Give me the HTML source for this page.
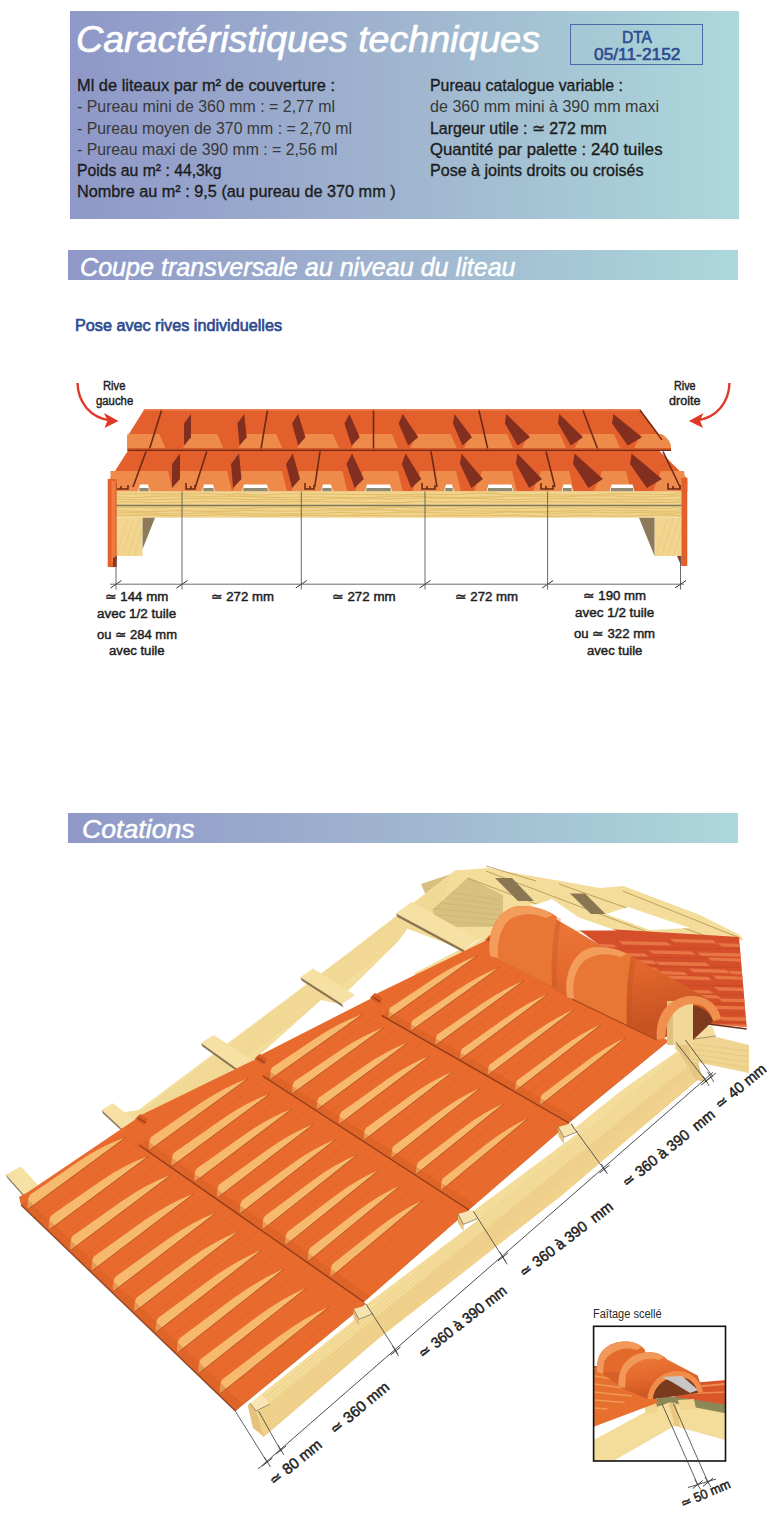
<!DOCTYPE html>
<html><head><meta charset="utf-8">
<style>
html,body{margin:0;padding:0;background:#fff;}
body{width:780px;height:1528px;position:relative;overflow:hidden;font-family:"Liberation Sans",sans-serif;}
.abs{position:absolute;white-space:nowrap;line-height:1;}
.grad{background:linear-gradient(to right,#8f98c8 0%,#a0b5cf 50%,#acd8db 100%);}
svg{position:absolute;left:0;}
</style></head>
<body>
<div class="abs grad" style="left:70px;top:11px;width:669px;height:208px;"></div>
<div class="abs" style="left:570px;top:23.5px;width:131px;height:39px;border:1.5px solid #4a6aa8;"></div>
<div class="abs grad" style="left:68px;top:250px;width:670px;height:30px;"></div>
<div class="abs grad" style="left:68px;top:812.5px;width:670px;height:30.5px;"></div>
<svg width="780" height="700" viewBox="0 0 780 700" style="top:0">
<path d="M77.5,383 C78,402 90,418 111,420.5" fill="none" stroke="#e2382a" stroke-width="2.4"/>
<path d="M118.5,421 L104,413 L107.5,420.5 L104.5,428 Z" fill="#e2382a"/>
<path d="M729.5,383 C729,402 717,418 696,420.5" fill="none" stroke="#e2382a" stroke-width="2.4"/>
<path d="M689,421 L703.5,413 L700,420.5 L703,428 Z" fill="#e2382a"/>
<path d="M144.4,409.3 L640,409.3 L662,438 Q672,440 671,450 L127.3,450 L127.3,436.4 Z" fill="#e35f2b"/>
<path d="M144.4,409.3 L640,409.3 L641,411 L143,411 Z" fill="#e97a48"/>
<path d="M127.3,434 L159.4,434 L165.4,448 L127.3,448 Z" fill="#ef8b4a"/>
<path d="M190.0,434 L217.2,434 L223.2,448 L183.0,448 Z" fill="#ef8b4a"/>
<path d="M245.7,434 L276.3,434 L282.3,448 L238.7,448 Z" fill="#ef8b4a"/>
<path d="M304.4,434 L333.1,434 L339.1,448 L297.4,448 Z" fill="#ef8b4a"/>
<path d="M358.7,434 L391.9,434 L397.9,448 L351.7,448 Z" fill="#ef8b4a"/>
<path d="M417.2,434 L450.7,434 L456.7,448 L410.2,448 Z" fill="#ef8b4a"/>
<path d="M471.0,434 L507.0,434 L513.0,448 L464.0,448 Z" fill="#ef8b4a"/>
<path d="M529.0,434 L560.0,434 L566.0,448 L522.0,448 Z" fill="#ef8b4a"/>
<path d="M582.0,434 L614.0,434 L620.0,448 L575.0,448 Z" fill="#ef8b4a"/>
<path d="M641.0,434 L662,434 Q671,440 671,448 L634.0,448 Z" fill="#ef8b4a"/>
<path d="M184.0,423.4 L191.0,414.0 L191.0,437.3 L184.0,445.5 Z" fill="#832f20"/>
<path d="M237.4,423.4 L244.2,414.0 L246.7,437.3 L239.5,445.5 Z" fill="#832f20"/>
<path d="M292.0,423.4 L298.1,414.0 L305.4,437.3 L298.2,445.5 Z" fill="#832f20"/>
<path d="M344.4,423.4 L349.5,414.0 L359.7,437.3 L351.6,445.5 Z" fill="#832f20"/>
<path d="M398.7,423.4 L402.7,414.0 L418.2,437.3 L408.1,445.5 Z" fill="#832f20"/>
<path d="M453.0,423.4 L454.6,414.0 L472.0,437.3 L462.4,445.5 Z" fill="#832f20"/>
<path d="M505.0,423.4 L506.2,414.0 L530.0,437.3 L517.6,445.5 Z" fill="#832f20"/>
<path d="M558.0,423.4 L559.2,414.0 L583.0,437.3 L570.9,445.5 Z" fill="#832f20"/>
<path d="M612.0,423.4 L613.5,414.0 L642.0,437.3 L627.8,445.5 Z" fill="#832f20"/>
<path d="M161.5,410.5 L149.2,450" stroke="#6e2a16" stroke-width="1.6"/>
<path d="M267.5,410.5 L260.8,450" stroke="#6e2a16" stroke-width="1.6"/>
<path d="M373.5,410.5 L373.5,450" stroke="#6e2a16" stroke-width="1.6"/>
<path d="M479,410.5 L488,450" stroke="#6e2a16" stroke-width="1.6"/>
<path d="M583,410.5 L598,450" stroke="#6e2a16" stroke-width="1.6"/>
<path d="M640,410 L662,440" stroke="#6e2a16" stroke-width="1.3"/>
<path d="M127.3,448.8 L671,448.8" stroke="#d45a28" stroke-width="1.2"/>
<path d="M128,450.6 L659,450.6 L687.3,478.6 L687.3,491.5 L110.3,491.5 L110.3,478.5 Z" fill="#e35f2b"/>
<path d="M127.3,450.4 L671,450.4" stroke="#6e2a16" stroke-width="1.4"/>
<path d="M110.5,471 L168.0,471 L173.0,491.5 L110.5,491.5 Z" fill="#ef8b4a"/>
<path d="M179.0,471 L227.0,471 L232.0,491.5 L171.0,491.5 Z" fill="#ef8b4a"/>
<path d="M240.5,471 L282.0,471 L287.0,491.5 L232.5,491.5 Z" fill="#ef8b4a"/>
<path d="M299.0,471 L342.4,471 L347.4,491.5 L291.0,491.5 Z" fill="#ef8b4a"/>
<path d="M362.8,471 L397.8,471 L402.8,491.5 L354.8,491.5 Z" fill="#ef8b4a"/>
<path d="M420.3,471 L456.0,471 L461.0,491.5 L412.3,491.5 Z" fill="#ef8b4a"/>
<path d="M482.0,471 L512.0,471 L517.0,491.5 L474.0,491.5 Z" fill="#ef8b4a"/>
<path d="M541.0,471 L569.0,471 L574.0,491.5 L533.0,491.5 Z" fill="#ef8b4a"/>
<path d="M602.0,471 L626.0,471 L631.0,491.5 L594.0,491.5 Z" fill="#ef8b4a"/>
<path d="M661.0,471 L684.0,471 L687.0,491.5 L653.0,491.5 Z" fill="#ef8b4a"/>
<path d="M138,491.5 L140,484.5 L148,484.5 L150,491.5 Z" fill="#ffffff"/>
<path d="M139,491.5 L139.5,488 L148.5,488 L149,491.5 Z" fill="#8e8b72"/>
<path d="M202,491.5 L204,484.5 L213,484.5 L215,491.5 Z" fill="#ffffff"/>
<path d="M203,491.5 L203.5,488 L213.5,488 L214,491.5 Z" fill="#8e8b72"/>
<path d="M321,491.5 L323,484.5 L331,484.5 L333,491.5 Z" fill="#ffffff"/>
<path d="M322,491.5 L322.5,488 L331.5,488 L332,491.5 Z" fill="#8e8b72"/>
<path d="M444,491.5 L446,484.5 L452,484.5 L454,491.5 Z" fill="#ffffff"/>
<path d="M445,491.5 L445.5,488 L452.5,488 L453,491.5 Z" fill="#8e8b72"/>
<path d="M561.5,491.5 L563.5,484.5 L571,484.5 L573,491.5 Z" fill="#ffffff"/>
<path d="M562.5,491.5 L563.0,488 L571.5,488 L572,491.5 Z" fill="#8e8b72"/>
<path d="M242,491.5 L244,484.5 L267,484.5 L269,491.5 Z" fill="#ffffff"/>
<path d="M243,491.5 L243.5,488 L267.5,488 L268,491.5 Z" fill="#8e8b72"/>
<path d="M365,491.5 L367,484.5 L390,484.5 L392,491.5 Z" fill="#ffffff"/>
<path d="M366,491.5 L366.5,488 L390.5,488 L391,491.5 Z" fill="#8e8b72"/>
<path d="M486.5,491.5 L488.5,484.5 L511.5,484.5 L513.5,491.5 Z" fill="#ffffff"/>
<path d="M487.5,491.5 L488.0,488 L512.0,488 L512.5,491.5 Z" fill="#8e8b72"/>
<path d="M609.6,491.5 L611.6,484.5 L632.6,484.5 L634.6,491.5 Z" fill="#ffffff"/>
<path d="M610.6,491.5 L611.1,488 L633.1,488 L633.6,491.5 Z" fill="#8e8b72"/>
<path d="M116,483 L116,489 L128,489 L128,485 M121,486 L121,489" fill="none" stroke="#6e2a16" stroke-width="1.6"/>
<path d="M186,483 L186,489 L195,489 L195,485 M191,486 L191,489" fill="none" stroke="#6e2a16" stroke-width="1.6"/>
<path d="M305,483 L305,489 L314,489 L314,485 M310,486 L310,489" fill="none" stroke="#6e2a16" stroke-width="1.6"/>
<path d="M422,483 L422,489 L435,489 L435,485 M427,486 L427,489" fill="none" stroke="#6e2a16" stroke-width="1.6"/>
<path d="M541,483 L541,489 L553,489 L553,485 M546,486 L546,489" fill="none" stroke="#6e2a16" stroke-width="1.6"/>
<path d="M668,483 L668,489 L680,489 L680,485 M673,486 L673,489" fill="none" stroke="#6e2a16" stroke-width="1.6"/>
<path d="M172.0,463.9 L180.0,453.5 L180.0,479.0 L172.0,488.0 Z" fill="#832f20"/>
<path d="M231.0,463.9 L239.0,453.5 L241.5,479.0 L233.1,488.0 Z" fill="#832f20"/>
<path d="M286.0,463.9 L292.8,453.5 L300.0,479.0 L292.1,488.0 Z" fill="#832f20"/>
<path d="M346.4,463.9 L352.1,453.5 L363.8,479.0 L354.6,488.0 Z" fill="#832f20"/>
<path d="M401.8,463.9 L405.7,453.5 L421.3,479.0 L411.2,488.0 Z" fill="#832f20"/>
<path d="M460.0,463.9 L461.4,453.5 L483.0,479.0 L471.4,488.0 Z" fill="#832f20"/>
<path d="M516.0,463.9 L517.3,453.5 L542.0,479.0 L529.2,488.0 Z" fill="#832f20"/>
<path d="M573.0,463.9 L574.5,453.5 L603.0,479.0 L588.5,488.0 Z" fill="#832f20"/>
<path d="M630.0,463.9 L631.6,453.5 L662.0,479.0 L646.9,488.0 Z" fill="#832f20"/>
<path d="M146,451.5 L133,487" stroke="#6e2a16" stroke-width="1.6"/>
<path d="M206.7,451.5 L195.4,487" stroke="#6e2a16" stroke-width="1.6"/>
<path d="M320,451.5 L314.7,487" stroke="#6e2a16" stroke-width="1.6"/>
<path d="M431,451.5 L437,487" stroke="#6e2a16" stroke-width="1.6"/>
<path d="M546,451.5 L555,487" stroke="#6e2a16" stroke-width="1.6"/>
<path d="M663,451.5 L680,487" stroke="#6e2a16" stroke-width="1.6"/>
<rect x="115" y="491.3" width="566.5" height="26.4" fill="#f1d48e"/>
<path d="M115,494.0 Q134.8,494.2 154.5,493.8 Q181.6,494.6 208.7,493.3 Q223.9,495.5 239.2,493.6 Q258.9,496.2 278.6,494.0 Q310.3,493.9 342.0,494.2 Q360.0,494.6 378.1,494.6 Q403.5,495.1 429.0,494.3 Q445.3,495.1 461.5,494.1 Q482.6,491.9 503.6,494.6 Q528.1,495.0 552.5,494.6 Q581.8,495.9 611.1,493.8 Q642.1,493.8 673.1,494.7 Q677.1,492.2 681.0,493.4" stroke="#e0b860" stroke-width="1.1" fill="none" opacity="0.8"/>
<path d="M115,496.5 Q134.3,498.5 153.7,496.4 Q181.2,495.6 208.7,496.5 Q231.5,495.8 254.2,496.6 Q280.9,498.3 307.6,496.8 Q341.1,498.1 374.7,497.3 Q403.1,495.0 431.6,497.1 Q465.9,498.3 500.1,496.6 Q529.4,495.2 558.7,497.0 Q585.2,495.6 611.6,495.8 Q643.7,498.7 675.8,495.8 Q678.4,496.1 681.0,495.9" stroke="#e0b860" stroke-width="1.1" fill="none" opacity="0.8"/>
<path d="M115,499.0 Q135.9,500.2 156.8,499.6 Q172.6,499.5 188.5,498.3 Q217.9,498.3 247.3,499.6 Q281.9,499.0 316.5,499.8 Q337.7,497.1 358.9,499.2 Q374.5,497.7 390.1,498.9 Q417.3,497.5 444.5,498.3 Q476.9,498.2 509.3,499.7 Q542.2,498.5 575.1,498.9 Q600.5,499.6 625.9,499.2 Q652.1,499.5 678.3,499.7 Q679.6,498.7 681.0,499.4" stroke="#e0b860" stroke-width="1.1" fill="none" opacity="0.8"/>
<path d="M115,502.0 Q134.8,501.1 154.5,502.8 Q179.9,502.2 205.4,501.2 Q228.7,502.4 252.0,501.2 Q279.3,502.6 306.6,501.3 Q334.1,501.9 361.7,502.3 Q383.7,502.9 405.8,502.4 Q421.2,500.1 436.7,502.3 Q470.9,500.9 505.2,501.9 Q532.1,501.2 558.9,501.8 Q580.2,501.4 601.4,502.2 Q622.4,501.5 643.4,502.4 Q659.0,502.3 674.5,502.4 Q677.8,500.8 681.0,502.5" stroke="#e0b860" stroke-width="1.1" fill="none" opacity="0.8"/>
<path d="M115,508.0 Q134.8,506.6 154.5,507.9 Q183.5,506.2 212.5,507.7 Q234.1,509.5 255.8,507.9 Q287.9,506.5 320.0,507.7 Q348.0,509.7 376.1,507.9 Q395.6,506.3 415.1,508.0 Q433.9,509.3 452.7,508.5 Q471.4,507.0 490.0,508.5 Q517.9,509.3 545.7,507.8 Q563.3,507.1 580.9,508.5 Q601.3,507.3 621.7,507.9 Q645.1,507.6 668.5,508.7 Q674.8,505.8 681.0,508.7" stroke="#e0b860" stroke-width="1.1" fill="none" opacity="0.8"/>
<path d="M115,510.5 Q147.6,512.6 180.2,510.4 Q214.2,512.4 248.2,510.1 Q278.1,512.0 308.0,510.8 Q333.4,509.6 358.8,510.2 Q378.3,508.6 397.9,510.6 Q418.6,511.9 439.4,509.8 Q472.4,511.4 505.5,511.2 Q538.4,512.3 571.4,510.6 Q586.6,511.6 601.9,510.0 Q622.9,511.2 643.9,510.5 Q662.4,512.4 681.0,510.7" stroke="#e0b860" stroke-width="1.1" fill="none" opacity="0.8"/>
<path d="M115,513.0 Q136.8,511.9 158.7,513.6 Q183.2,514.2 207.7,512.8 Q226.7,513.2 245.6,513.5 Q264.1,514.3 282.5,513.7 Q313.6,514.4 344.7,512.2 Q372.3,514.6 399.9,512.3 Q420.3,512.0 440.7,513.0 Q464.2,512.9 487.6,513.4 Q502.7,511.0 517.7,512.4 Q535.2,511.1 552.7,513.8 Q584.8,511.2 616.9,513.0 Q638.2,512.2 659.5,512.8 Q670.3,513.4 681.0,512.8" stroke="#e0b860" stroke-width="1.1" fill="none" opacity="0.8"/>
<path d="M115,515.5 Q133.8,514.7 152.6,514.9 Q178.8,516.5 204.9,515.3 Q221.5,514.1 238.1,515.3 Q265.1,516.7 292.2,515.3 Q323.3,516.0 354.3,515.4 Q376.7,515.5 399.2,515.8 Q422.6,516.4 446.0,515.4 Q465.9,515.7 485.8,515.8 Q502.2,515.2 518.7,515.4 Q551.3,517.4 583.9,515.3 Q616.8,516.8 649.8,515.1 Q665.4,513.8 681.0,516.0" stroke="#e0b860" stroke-width="1.1" fill="none" opacity="0.8"/>
<path d="M115,505.5 L681.5,505.5" stroke="#7f735c" stroke-width="1.3"/>
<path d="M115,517.7 L142.6,517.7 L142.6,556 L115,556 Z" fill="#f2d690"/>
<path d="M116,556 L128,517.7" stroke="#e6c070" stroke-width="0.8" opacity="0.6"/>
<path d="M122,556 L134,517.7" stroke="#e6c070" stroke-width="0.8" opacity="0.6"/>
<path d="M128,556 L140,517.7" stroke="#e6c070" stroke-width="0.8" opacity="0.6"/>
<path d="M134,556 L146,517.7" stroke="#e6c070" stroke-width="0.8" opacity="0.6"/>
<path d="M142.6,517.7 L155,517.7 L142.6,549 Z" fill="#8c7a58"/>
<path d="M654.5,517.7 L681.4,517.7 L681.4,556 L654.5,556 Z" fill="#f2d690"/>
<path d="M655.5,556 L667.5,517.7" stroke="#e6c070" stroke-width="0.8" opacity="0.6"/>
<path d="M661.5,556 L673.5,517.7" stroke="#e6c070" stroke-width="0.8" opacity="0.6"/>
<path d="M667.5,556 L679.5,517.7" stroke="#e6c070" stroke-width="0.8" opacity="0.6"/>
<path d="M673.5,556 L685.5,517.7" stroke="#e6c070" stroke-width="0.8" opacity="0.6"/>
<path d="M639,517.7 L654.5,517.7 L654.5,556 Z" fill="#8c7a58"/>
<path d="M107.7,479 L116.7,479 L116.7,560 L113,567 L107.7,567 Z" fill="#e35f2b"/>
<path d="M111.5,481 L115.5,481 L115.5,558 L111.5,564 Z" fill="#ee7c40"/>
<path d="M113,558 L116.7,556 L116.7,567 L113,567 Z" fill="#8b3423"/>
<path d="M681.4,478 L687.3,478 L687.3,566 L681.4,566 Z" fill="#e35f2b"/>
<path d="M681.4,556 L681.4,566 L677,556 Z" fill="#8b3423"/>
<path d="M116,556 L116,589.5" stroke="#5a5a5a" stroke-width="0.9"/>
<path d="M110.5,588 L121.5,580.5" stroke="#333" stroke-width="1"/>
<path d="M182,491.5 L182,589.5" stroke="#5a5a5a" stroke-width="0.9"/>
<path d="M176.5,588 L187.5,580.5" stroke="#333" stroke-width="1"/>
<path d="M301.3,491.5 L301.3,589.5" stroke="#5a5a5a" stroke-width="0.9"/>
<path d="M295.8,588 L306.8,580.5" stroke="#333" stroke-width="1"/>
<path d="M425,491.5 L425,589.5" stroke="#5a5a5a" stroke-width="0.9"/>
<path d="M419.5,588 L430.5,580.5" stroke="#333" stroke-width="1"/>
<path d="M547.6,491.5 L547.6,589.5" stroke="#5a5a5a" stroke-width="0.9"/>
<path d="M542.1,588 L553.1,580.5" stroke="#333" stroke-width="1"/>
<path d="M680.5,556 L680.5,589.5" stroke="#5a5a5a" stroke-width="0.9"/>
<path d="M675.0,588 L686.0,580.5" stroke="#333" stroke-width="1"/>
<path d="M110,584.2 L684,584.2" stroke="#5a5a5a" stroke-width="0.9"/>
</svg>
<svg width="780" height="1528" viewBox="0 0 780 1528" style="top:0">
<path d="M400.0,930.0 L457.0,870.5 L487.7,868.0 L520.0,874.0 L559.5,880.8 L600.0,888.0 L623.6,886.0 L700.0,915.0 L739.0,934.6 L744.0,940.0 L585.0,930.0 L520.0,955.0 L490.0,965.0 L470.0,985.0 L420.0,990.0 Z" fill="#f4dc9a" />
<path d="M421.0,884.0 L457.0,872.0 L503.0,895.0 L503.0,927.0 L440.0,927.0 Z" fill="#d8c080" />
<path d="M425.0,888.0 L500.0,900.0" fill="none" stroke="#c4a862" stroke-width="0.7" opacity="0.6"/>
<path d="M425.0,894.5 L500.0,905.0" fill="none" stroke="#c4a862" stroke-width="0.7" opacity="0.6"/>
<path d="M425.0,901.0 L500.0,910.0" fill="none" stroke="#c4a862" stroke-width="0.7" opacity="0.6"/>
<path d="M425.0,907.5 L500.0,915.0" fill="none" stroke="#c4a862" stroke-width="0.7" opacity="0.6"/>
<path d="M425.0,914.0 L500.0,920.0" fill="none" stroke="#c4a862" stroke-width="0.7" opacity="0.6"/>
<path d="M425.0,920.5 L500.0,925.0" fill="none" stroke="#c4a862" stroke-width="0.7" opacity="0.6"/>
<path d="M457.0,874.0 L621.0,936.0" fill="none" stroke="#b89a58" stroke-width="1.0" opacity="0.9"/>
<path d="M486.0,871.0 L655.0,935.0" fill="none" stroke="#b89a58" stroke-width="1.0" opacity="0.9"/>
<path d="M559.0,884.0 L709.0,937.0" fill="none" stroke="#b89a58" stroke-width="1.0" opacity="0.9"/>
<path d="M622.7,891.0 L740.0,938.0" fill="none" stroke="#b89a58" stroke-width="1.0" opacity="0.9"/>
<path d="M486.0,866.0 L536.0,881.0" fill="none" stroke="#b89a58" stroke-width="1.0" opacity="0.9"/>
<path d="M495.0,878.0 L512.0,878.0 L534.0,901.0 L518.0,901.0 Z" fill="#8a7652" />
<path d="M570.0,893.6 L585.0,893.6 L605.6,914.0 L591.0,914.0 Z" fill="#8a7652" />
<path d="M535.0,905.0 L552.0,899.0 L578.0,917.0 L562.0,921.0 Z" fill="#ffffff" />
<path d="M606.0,914.0 L628.0,907.0 L690.0,928.0 L650.0,930.0 Z" fill="#ffffff" />
<path d="M118.0,1122.0 L126.0,1112.0 L138.5,1110.0 L343.6,956.4 L456.0,869.7 L470.0,876.0 L415.0,925.0 L339.2,999.4 L261.3,1055.4 L139.5,1118.7 Z" fill="#f4dc9a" />
<path d="M140.0,1114.0 L452.0,876.0" fill="none" stroke="#dcbb72" stroke-width="0.6" opacity="0.55"/>
<path d="M141.5,1115.8 L450.0,880.5" fill="none" stroke="#dcbb72" stroke-width="0.6" opacity="0.55"/>
<path d="M143.0,1117.6 L448.0,885.0" fill="none" stroke="#dcbb72" stroke-width="0.6" opacity="0.55"/>
<path d="M144.5,1119.4 L446.0,889.5" fill="none" stroke="#dcbb72" stroke-width="0.6" opacity="0.55"/>
<path d="M146.0,1121.2 L444.0,894.0" fill="none" stroke="#dcbb72" stroke-width="0.6" opacity="0.55"/>
<path d="M147.5,1123.0 L442.0,898.5" fill="none" stroke="#dcbb72" stroke-width="0.6" opacity="0.55"/>
<path d="M149.0,1124.8 L440.0,903.0" fill="none" stroke="#dcbb72" stroke-width="0.6" opacity="0.55"/>
<path d="M150.5,1126.6 L438.0,907.5" fill="none" stroke="#dcbb72" stroke-width="0.6" opacity="0.55"/>
<path d="M152.0,1128.4 L436.0,912.0" fill="none" stroke="#dcbb72" stroke-width="0.6" opacity="0.55"/>
<path d="M253.0,1061.0 L321.0,1000.0 L352.0,1006.4 L372.0,996.0 L267.7,1061.0 Z" fill="#ffffff" />
<path d="M355.0,1000.0 L407.4,928.7 L464.0,950.0 L484.0,937.0 L373.3,994.5 Z" fill="#ffffff" />
<path d="M5.8,1174.6 L20.8,1166.5 L38.0,1185.0 L24.0,1195.0 Z" fill="#f6e0a4" />
<path d="M5.8,1174.6 L24.0,1195.0 L25.5,1198.5 L7.3,1178.1 Z" fill="#8a7652" />
<path d="M101.6,1110.0 L112.8,1103.2 L135.0,1120.0 L122.0,1129.0 Z" fill="#f6e0a4" />
<path d="M101.6,1110.0 L122.0,1129.0 L123.5,1132.5 L103.1,1113.5 Z" fill="#8a7652" />
<path d="M201.0,1043.0 L213.8,1035.0 L255.0,1062.0 L240.0,1071.0 Z" fill="#f6e0a4" />
<path d="M201.0,1043.0 L240.0,1071.0 L241.5,1074.5 L202.5,1046.5 Z" fill="#8a7652" />
<path d="M300.3,977.2 L313.0,968.6 L355.0,995.0 L342.0,1004.0 Z" fill="#f6e0a4" />
<path d="M300.3,977.2 L342.0,1004.0 L343.5,1007.5 L301.8,980.7 Z" fill="#8a7652" />
<path d="M396.0,913.5 L411.5,902.0 L478.0,939.0 L464.0,950.0 Z" fill="#f6e0a4" />
<path d="M396.0,913.5 L464.0,950.0 L465.5,953.5 L397.5,917.0 Z" fill="#8a7652" />
<path d="M575.0,927.0 L739.0,937.0 L746.7,1027.0 L708.0,1024.0 L690.0,1000.0 L640.0,975.0 Z" fill="#d5502a" />
<clipPath id="rr"><path d="M575.0,927.0 L739.0,937.0 L746.7,1027.0 L708.0,1024.0 L690.0,1000.0 L640.0,975.0 Z"/></clipPath><g clip-path="url(#rr)">
<path d="M575.0,943.2 L613.6,944.4 L617.6,947.8 L579.0,946.6 Z" fill="#ea7a48" opacity="0.9"/>
<path d="M618.7,941.0 L667.1,942.2 L671.1,945.6 L622.7,944.4 Z" fill="#ea7a48" opacity="0.9"/>
<path d="M670.2,938.8 L712.8,940.0 L716.8,943.4 L674.2,942.2 Z" fill="#ea7a48" opacity="0.9"/>
<path d="M717.6,943.2 L756.9,944.4 L760.9,947.8 L721.6,946.6 Z" fill="#ea7a48" opacity="0.9"/>
<path d="M575.0,947.5 L750.0,949.0" fill="none" stroke="#a83c1c" stroke-width="0.6" opacity="0.5"/>
<path d="M575.0,950.2 L602.8,951.4 L606.8,954.8 L579.0,953.6 Z" fill="#ea7a48" opacity="0.9"/>
<path d="M603.7,952.4 L644.8,953.6 L648.8,957.0 L607.7,955.8 Z" fill="#ea7a48" opacity="0.9"/>
<path d="M648.6,950.2 L691.5,951.4 L695.5,954.8 L652.6,953.6 Z" fill="#ea7a48" opacity="0.9"/>
<path d="M697.3,952.4 L741.9,953.6 L745.9,957.0 L701.3,955.8 Z" fill="#ea7a48" opacity="0.9"/>
<path d="M745.8,952.4 L789.5,953.6 L793.5,957.0 L749.8,955.8 Z" fill="#ea7a48" opacity="0.9"/>
<path d="M575.0,956.7 L750.0,958.2" fill="none" stroke="#a83c1c" stroke-width="0.6" opacity="0.5"/>
<path d="M575.0,957.2 L601.1,958.4 L605.1,961.8 L579.0,960.6 Z" fill="#ea7a48" opacity="0.9"/>
<path d="M604.7,959.4 L653.0,960.6 L657.0,964.0 L608.7,962.8 Z" fill="#ea7a48" opacity="0.9"/>
<path d="M655.7,961.6 L705.9,962.8 L709.9,966.2 L659.7,965.0 Z" fill="#ea7a48" opacity="0.9"/>
<path d="M707.3,957.2 L741.2,958.4 L745.2,961.8 L711.3,960.6 Z" fill="#ea7a48" opacity="0.9"/>
<path d="M745.1,959.4 L783.8,960.6 L787.8,964.0 L749.1,962.8 Z" fill="#ea7a48" opacity="0.9"/>
<path d="M575.0,965.9 L750.0,967.4" fill="none" stroke="#a83c1c" stroke-width="0.6" opacity="0.5"/>
<path d="M575.0,966.4 L616.5,967.6 L620.5,971.0 L579.0,969.8 Z" fill="#ea7a48" opacity="0.9"/>
<path d="M620.8,966.4 L655.2,967.6 L659.2,971.0 L624.8,969.8 Z" fill="#ea7a48" opacity="0.9"/>
<path d="M658.3,970.8 L684.2,972.0 L688.2,975.4 L662.3,974.2 Z" fill="#ea7a48" opacity="0.9"/>
<path d="M688.8,968.6 L725.8,969.8 L729.8,973.2 L692.8,972.0 Z" fill="#ea7a48" opacity="0.9"/>
<path d="M728.1,970.8 L781.9,972.0 L785.9,975.4 L732.1,974.2 Z" fill="#ea7a48" opacity="0.9"/>
<path d="M575.0,975.1 L750.0,976.6" fill="none" stroke="#a83c1c" stroke-width="0.6" opacity="0.5"/>
<path d="M575.0,975.6 L606.3,976.8 L610.3,980.2 L579.0,979.0 Z" fill="#ea7a48" opacity="0.9"/>
<path d="M609.1,977.8 L663.5,979.0 L667.5,982.4 L613.1,981.2 Z" fill="#ea7a48" opacity="0.9"/>
<path d="M666.0,975.6 L708.0,976.8 L712.0,980.2 L670.0,979.0 Z" fill="#ea7a48" opacity="0.9"/>
<path d="M712.7,975.6 L745.8,976.8 L749.8,980.2 L716.7,979.0 Z" fill="#ea7a48" opacity="0.9"/>
<path d="M747.7,977.8 L773.1,979.0 L777.1,982.4 L751.7,981.2 Z" fill="#ea7a48" opacity="0.9"/>
<path d="M575.0,984.3 L750.0,985.8" fill="none" stroke="#a83c1c" stroke-width="0.6" opacity="0.5"/>
<path d="M575.0,984.8 L603.5,986.0 L607.5,989.4 L579.0,988.2 Z" fill="#ea7a48" opacity="0.9"/>
<path d="M607.8,987.0 L633.1,988.2 L637.1,991.6 L611.8,990.4 Z" fill="#ea7a48" opacity="0.9"/>
<path d="M637.9,989.2 L668.2,990.4 L672.2,993.8 L641.9,992.6 Z" fill="#ea7a48" opacity="0.9"/>
<path d="M669.4,989.2 L709.6,990.4 L713.6,993.8 L673.4,992.6 Z" fill="#ea7a48" opacity="0.9"/>
<path d="M714.2,987.0 L751.8,988.2 L755.8,991.6 L718.2,990.4 Z" fill="#ea7a48" opacity="0.9"/>
<path d="M575.0,993.5 L750.0,995.0" fill="none" stroke="#a83c1c" stroke-width="0.6" opacity="0.5"/>
<path d="M575.0,994.0 L612.6,995.2 L616.6,998.6 L579.0,997.4 Z" fill="#ea7a48" opacity="0.9"/>
<path d="M612.6,998.4 L663.6,999.6 L667.6,1003.0 L616.6,1001.8 Z" fill="#ea7a48" opacity="0.9"/>
<path d="M665.4,994.0 L716.9,995.2 L720.9,998.6 L669.4,997.4 Z" fill="#ea7a48" opacity="0.9"/>
<path d="M718.1,998.4 L772.9,999.6 L776.9,1003.0 L722.1,1001.8 Z" fill="#ea7a48" opacity="0.9"/>
<path d="M575.0,1002.7 L750.0,1004.2" fill="none" stroke="#a83c1c" stroke-width="0.6" opacity="0.5"/>
<path d="M575.0,1003.2 L603.0,1004.4 L607.0,1007.8 L579.0,1006.6 Z" fill="#ea7a48" opacity="0.9"/>
<path d="M604.3,1007.6 L637.0,1008.8 L641.0,1012.2 L608.3,1011.0 Z" fill="#ea7a48" opacity="0.9"/>
<path d="M639.0,1003.2 L672.9,1004.4 L676.9,1007.8 L643.0,1006.6 Z" fill="#ea7a48" opacity="0.9"/>
<path d="M673.3,1007.6 L704.6,1008.8 L708.6,1012.2 L677.3,1011.0 Z" fill="#ea7a48" opacity="0.9"/>
<path d="M706.1,1005.4 L749.1,1006.6 L753.1,1010.0 L710.1,1008.8 Z" fill="#ea7a48" opacity="0.9"/>
<path d="M575.0,1011.9 L750.0,1013.4" fill="none" stroke="#a83c1c" stroke-width="0.6" opacity="0.5"/>
<path d="M575.0,1016.8 L603.8,1018.0 L607.8,1021.4 L579.0,1020.2 Z" fill="#ea7a48" opacity="0.9"/>
<path d="M606.7,1014.6 L649.0,1015.8 L653.0,1019.2 L610.7,1018.0 Z" fill="#ea7a48" opacity="0.9"/>
<path d="M650.1,1012.4 L679.7,1013.6 L683.7,1017.0 L654.1,1015.8 Z" fill="#ea7a48" opacity="0.9"/>
<path d="M684.6,1012.4 L717.1,1013.6 L721.1,1017.0 L688.6,1015.8 Z" fill="#ea7a48" opacity="0.9"/>
<path d="M718.0,1016.8 L761.9,1018.0 L765.9,1021.4 L722.0,1020.2 Z" fill="#ea7a48" opacity="0.9"/>
<path d="M575.0,1021.1 L750.0,1022.6" fill="none" stroke="#a83c1c" stroke-width="0.6" opacity="0.5"/>
<path d="M575.0,1023.8 L628.5,1025.0 L632.5,1028.4 L579.0,1027.2 Z" fill="#ea7a48" opacity="0.9"/>
<path d="M632.1,1021.6 L669.8,1022.8 L673.8,1026.2 L636.1,1025.0 Z" fill="#ea7a48" opacity="0.9"/>
<path d="M670.4,1023.8 L710.8,1025.0 L714.8,1028.4 L674.4,1027.2 Z" fill="#ea7a48" opacity="0.9"/>
<path d="M712.2,1023.8 L758.4,1025.0 L762.4,1028.4 L716.2,1027.2 Z" fill="#ea7a48" opacity="0.9"/>
<path d="M575.0,1030.3 L750.0,1031.8" fill="none" stroke="#a83c1c" stroke-width="0.6" opacity="0.5"/>
</g>
<path d="M708.0,1024.0 L746.7,1029.0" fill="none" stroke="#6a2a14" stroke-width="1.5" />
<path d="M245.6,1398.5 L365.4,1298.2 L531.8,1162.8 L690.0,1035.0 L697.0,1040.0 L700.0,1078.0 L560.0,1196.7 L376.7,1340.0 L263.6,1437.0 L247.0,1402.0 Z" fill="#f4dc9a" />
<path d="M247.0,1402.0 L263.6,1437.0 L376.7,1340.0 L560.0,1196.7 L700.0,1078.0 L688.0,1066.0 L540.0,1185.0 L370.0,1322.0 L255.0,1415.0 Z" fill="#efd08a" opacity="0.8"/>
<path d="M256.0,1405.0 L690.0,1046.0" fill="none" stroke="#dcbb72" stroke-width="0.6" opacity="0.55"/>
<path d="M257.5,1408.2 L690.0,1049.2" fill="none" stroke="#dcbb72" stroke-width="0.6" opacity="0.55"/>
<path d="M259.0,1411.4 L690.0,1052.4" fill="none" stroke="#dcbb72" stroke-width="0.6" opacity="0.55"/>
<path d="M260.5,1414.6 L690.0,1055.6" fill="none" stroke="#dcbb72" stroke-width="0.6" opacity="0.55"/>
<path d="M262.0,1417.8 L690.0,1058.8" fill="none" stroke="#dcbb72" stroke-width="0.6" opacity="0.55"/>
<path d="M263.5,1421.0 L690.0,1062.0" fill="none" stroke="#dcbb72" stroke-width="0.6" opacity="0.55"/>
<path d="M265.0,1424.2 L690.0,1065.2" fill="none" stroke="#dcbb72" stroke-width="0.6" opacity="0.55"/>
<path d="M266.5,1427.4 L690.0,1068.4" fill="none" stroke="#dcbb72" stroke-width="0.6" opacity="0.55"/>
<path d="M268.0,1430.6 L690.0,1071.6" fill="none" stroke="#dcbb72" stroke-width="0.6" opacity="0.55"/>
<path d="M246.0,1398.0 L258.5,1390.0 L270.0,1404.0 L256.0,1411.0 Z" fill="#f7e6b4" />
<path d="M246.0,1398.0 L256.0,1411.0 L264.0,1437.0 L253.0,1428.0 Z" fill="#e6c27c" />
<path d="M246.0,1398.0 L256.0,1411.0 L270.0,1404.0" fill="none" stroke="#8a7652" stroke-width="0.8" />
<path d="M672.0,1040.0 L690.8,1040.0 L700.0,1070.0 L706.0,1082.0 L696.0,1080.0 Z" fill="#e6c683" />
<path d="M687.7,1039.0 L712.0,1036.0 L749.0,1045.0 L749.0,1073.0 L690.8,1061.0 Z" fill="#f0d592" />
<path d="M692.0,1044.0 L748.0,1051.0" fill="none" stroke="#dcbc72" stroke-width="0.8" opacity="0.7"/>
<path d="M692.0,1049.0 L748.0,1056.5" fill="none" stroke="#dcbc72" stroke-width="0.8" opacity="0.7"/>
<path d="M692.0,1054.0 L748.0,1062.0" fill="none" stroke="#dcbc72" stroke-width="0.8" opacity="0.7"/>
<path d="M692.0,1059.0 L748.0,1067.5" fill="none" stroke="#dcbc72" stroke-width="0.8" opacity="0.7"/>
<path d="M690.0,1028.0 L712.0,1026.0 L716.0,1036.0 L694.0,1039.0 Z" fill="#f3dc9e" />
<path d="M690.0,1028.0 L694.0,1039.0 L716.0,1036.0" fill="none" stroke="#8a7652" stroke-width="0.7" />
<path d="M668.6,1002.7 L692.6,1002.7 L692.6,1043.6 L668.6,1043.6 Z" fill="#f2d898" />
<path d="M21.0,1205.0 L19.0,1197.0 L28.0,1192.0 L136.0,1119.0 L366.0,1304.0 L235.4,1411.0 Z" fill="#e86a2c" />
<path d="M28.0,1209.3 C26.5,1205.4 28.0,1196.4 30.4,1194.5 L78.8,1161.2 Q102.9,1144.9 125.6,1137.5 L28.0,1209.3 Z" fill="#f6b96e"/>
<path d="M28.0,1209.3 L125.6,1137.5" fill="none" stroke="#a0401a" stroke-width="1.0" opacity="0.7"/>
<path d="M38.5,1217.9 L148.8,1134.8" fill="none" stroke="#c95420" stroke-width="0.8" opacity="0.3"/>
<path d="M49.3,1229.8 C47.8,1225.8 49.3,1216.9 51.8,1214.9 L100.8,1180.9 Q125.3,1164.1 148.3,1156.3 L49.3,1229.8 Z" fill="#f6b96e"/>
<path d="M49.3,1229.8 L148.3,1156.3" fill="none" stroke="#a0401a" stroke-width="1.0" opacity="0.7"/>
<path d="M59.9,1238.4 L171.7,1153.2" fill="none" stroke="#c95420" stroke-width="0.8" opacity="0.3"/>
<path d="M70.7,1250.3 C69.2,1246.3 70.7,1237.4 73.2,1235.4 L122.8,1200.5 Q147.6,1183.3 170.9,1175.0 L70.7,1250.3 Z" fill="#f6b96e"/>
<path d="M70.7,1250.3 L170.9,1175.0" fill="none" stroke="#a0401a" stroke-width="1.0" opacity="0.7"/>
<path d="M81.3,1258.8 L194.6,1171.7" fill="none" stroke="#c95420" stroke-width="0.8" opacity="0.3"/>
<path d="M92.1,1270.8 C90.6,1266.8 92.1,1257.9 94.6,1255.9 L144.9,1220.1 Q170.0,1202.5 193.6,1193.8 L92.1,1270.8 Z" fill="#f6b96e"/>
<path d="M92.1,1270.8 L193.6,1193.8" fill="none" stroke="#a0401a" stroke-width="1.0" opacity="0.7"/>
<path d="M102.7,1279.3 L217.4,1190.2" fill="none" stroke="#c95420" stroke-width="0.8" opacity="0.3"/>
<path d="M113.5,1291.3 C112.0,1287.3 113.5,1278.4 115.9,1276.4 L166.9,1239.7 Q192.3,1221.6 216.3,1212.5 L113.5,1291.3 Z" fill="#f6b96e"/>
<path d="M113.5,1291.3 L216.3,1212.5" fill="none" stroke="#a0401a" stroke-width="1.0" opacity="0.7"/>
<path d="M124.1,1299.8 L240.3,1208.7" fill="none" stroke="#c95420" stroke-width="0.8" opacity="0.3"/>
<path d="M134.8,1311.8 C133.3,1307.8 134.8,1298.9 137.3,1296.9 L188.9,1259.3 Q214.7,1240.8 239.0,1231.2 L134.8,1311.8 Z" fill="#f6b96e"/>
<path d="M134.8,1311.8 L239.0,1231.2" fill="none" stroke="#a0401a" stroke-width="1.0" opacity="0.7"/>
<path d="M145.5,1320.3 L263.2,1227.2" fill="none" stroke="#c95420" stroke-width="0.8" opacity="0.3"/>
<path d="M156.2,1332.3 C154.7,1328.3 156.2,1319.4 158.7,1317.4 L210.9,1278.9 Q237.0,1260.0 261.6,1250.0 L156.2,1332.3 Z" fill="#f6b96e"/>
<path d="M156.2,1332.3 L261.6,1250.0" fill="none" stroke="#a0401a" stroke-width="1.0" opacity="0.7"/>
<path d="M166.9,1340.7 L286.0,1245.7" fill="none" stroke="#c95420" stroke-width="0.8" opacity="0.3"/>
<path d="M177.6,1352.8 C176.1,1348.8 177.6,1339.9 180.0,1337.9 L233.0,1298.6 Q259.4,1279.2 284.3,1268.7 L177.6,1352.8 Z" fill="#f6b96e"/>
<path d="M177.6,1352.8 L284.3,1268.7" fill="none" stroke="#a0401a" stroke-width="1.0" opacity="0.7"/>
<path d="M188.2,1361.2 L308.9,1264.2" fill="none" stroke="#c95420" stroke-width="0.8" opacity="0.3"/>
<path d="M198.9,1373.3 C197.5,1369.3 198.9,1360.4 201.4,1358.4 L255.0,1318.2 Q281.7,1298.4 307.0,1287.5 L198.9,1373.3 Z" fill="#f6b96e"/>
<path d="M198.9,1373.3 L307.0,1287.5" fill="none" stroke="#a0401a" stroke-width="1.0" opacity="0.7"/>
<path d="M209.6,1381.7 L331.7,1282.7" fill="none" stroke="#c95420" stroke-width="0.8" opacity="0.3"/>
<path d="M220.3,1393.7 C218.8,1389.8 220.3,1380.9 222.8,1378.9 L277.0,1337.8 Q304.1,1317.5 329.7,1306.2 L220.3,1393.7 Z" fill="#f6b96e"/>
<path d="M220.3,1393.7 L329.7,1306.2" fill="none" stroke="#a0401a" stroke-width="1.0" opacity="0.7"/>
<path d="M231.0,1402.2 L354.6,1301.2" fill="none" stroke="#c95420" stroke-width="0.8" opacity="0.3"/>
<path d="M21.0,1205.0 L235.4,1411.0 L243.2,1404.6 L27.9,1199.8 Z" fill="#cf5a22" opacity="0.35"/>
<path d="M21.0,1205.0 L235.4,1411.0" fill="none" stroke="#7a3216" stroke-width="1.4" opacity="0.8"/>
<path d="M235.4,1411.0 L366.0,1304.0" fill="none" stroke="#b04a1c" stroke-width="0.8" opacity="0.6"/>
<path d="M139.0,1145.0 L137.0,1117.0 L256.0,1059.0 L470.5,1209.0 L364.0,1302.0 Z" fill="#e86a2c" />
<path d="M149.4,1150.2 C148.0,1146.6 149.4,1138.4 151.7,1136.5 L200.6,1103.1 Q224.9,1086.7 248.0,1078.5 L149.4,1150.2 Z" fill="#f6b96e"/>
<path d="M149.4,1150.2 L248.0,1078.5" fill="none" stroke="#a0401a" stroke-width="1.0" opacity="0.7"/>
<path d="M160.4,1156.6 L270.7,1074.3" fill="none" stroke="#c95420" stroke-width="0.8" opacity="0.3"/>
<path d="M172.1,1166.1 C170.7,1162.4 172.1,1154.2 174.4,1152.4 L222.8,1118.7 Q247.0,1102.1 269.8,1093.8 L172.1,1166.1 Z" fill="#f6b96e"/>
<path d="M172.1,1166.1 L269.8,1093.8" fill="none" stroke="#a0401a" stroke-width="1.0" opacity="0.7"/>
<path d="M183.2,1172.5 L292.4,1089.5" fill="none" stroke="#c95420" stroke-width="0.8" opacity="0.3"/>
<path d="M194.8,1181.9 C193.5,1178.3 194.8,1170.1 197.1,1168.2 L245.1,1134.3 Q269.0,1117.5 291.6,1109.1 L194.8,1181.9 Z" fill="#f6b96e"/>
<path d="M194.8,1181.9 L291.6,1109.1" fill="none" stroke="#a0401a" stroke-width="1.0" opacity="0.7"/>
<path d="M205.9,1188.3 L314.1,1104.7" fill="none" stroke="#c95420" stroke-width="0.8" opacity="0.3"/>
<path d="M217.5,1197.8 C216.2,1194.1 217.5,1185.9 219.8,1184.1 L267.4,1149.8 Q291.1,1132.9 313.4,1124.3 L217.5,1197.8 Z" fill="#f6b96e"/>
<path d="M217.5,1197.8 L313.4,1124.3" fill="none" stroke="#a0401a" stroke-width="1.0" opacity="0.7"/>
<path d="M228.6,1204.1 L335.8,1119.9" fill="none" stroke="#c95420" stroke-width="0.8" opacity="0.3"/>
<path d="M240.2,1213.6 C238.9,1210.0 240.2,1201.7 242.5,1199.9 L289.6,1165.4 Q313.1,1148.3 335.3,1139.6 L240.2,1213.6 Z" fill="#f6b96e"/>
<path d="M240.2,1213.6 L335.3,1139.6" fill="none" stroke="#a0401a" stroke-width="1.0" opacity="0.7"/>
<path d="M251.3,1220.0 L357.5,1135.0" fill="none" stroke="#c95420" stroke-width="0.8" opacity="0.3"/>
<path d="M263.0,1229.5 C261.6,1225.8 263.0,1217.6 265.2,1215.8 L311.9,1180.9 Q335.2,1163.8 357.1,1154.8 L263.0,1229.5 Z" fill="#f6b96e"/>
<path d="M263.0,1229.5 L357.1,1154.8" fill="none" stroke="#a0401a" stroke-width="1.0" opacity="0.7"/>
<path d="M274.0,1235.8 L379.2,1150.2" fill="none" stroke="#c95420" stroke-width="0.8" opacity="0.3"/>
<path d="M285.7,1245.3 C284.3,1241.7 285.7,1233.4 288.0,1231.6 L334.2,1196.5 Q357.2,1179.2 378.9,1170.1 L285.7,1245.3 Z" fill="#f6b96e"/>
<path d="M285.7,1245.3 L378.9,1170.1" fill="none" stroke="#a0401a" stroke-width="1.0" opacity="0.7"/>
<path d="M296.7,1251.7 L400.9,1165.4" fill="none" stroke="#c95420" stroke-width="0.8" opacity="0.3"/>
<path d="M308.4,1261.2 C307.0,1257.5 308.4,1249.3 310.7,1247.5 L356.4,1212.0 Q379.3,1194.6 400.7,1185.3 L308.4,1261.2 Z" fill="#f6b96e"/>
<path d="M308.4,1261.2 L400.7,1185.3" fill="none" stroke="#a0401a" stroke-width="1.0" opacity="0.7"/>
<path d="M319.4,1267.5 L422.6,1180.5" fill="none" stroke="#c95420" stroke-width="0.8" opacity="0.3"/>
<path d="M331.1,1277.0 C329.7,1273.4 331.1,1265.1 333.4,1263.3 L378.7,1227.6 Q401.3,1210.0 422.5,1200.6 L331.1,1277.0 Z" fill="#f6b96e"/>
<path d="M331.1,1277.0 L422.5,1200.6" fill="none" stroke="#a0401a" stroke-width="1.0" opacity="0.7"/>
<path d="M342.1,1283.4 L444.3,1195.7" fill="none" stroke="#c95420" stroke-width="0.8" opacity="0.3"/>
<path d="M139.0,1145.0 L364.0,1302.0 L370.4,1296.4 L146.0,1139.8 Z" fill="#cf5a22" opacity="0.35"/>
<path d="M139.0,1145.0 L364.0,1302.0" fill="none" stroke="#7a3216" stroke-width="1.4" opacity="0.8"/>
<path d="M364.0,1302.0 L470.5,1209.0" fill="none" stroke="#b04a1c" stroke-width="0.8" opacity="0.6"/>
<path d="M262.8,1076.0 L256.4,1057.0 L372.0,998.0 L570.8,1122.0 L469.0,1210.0 Z" fill="#e86a2c" />
<path d="M270.6,1079.3 C269.4,1076.0 270.6,1068.6 272.7,1067.0 L318.3,1036.6 Q341.1,1021.7 362.7,1014.2 L270.6,1079.3 Z" fill="#f6b96e"/>
<path d="M270.6,1079.3 L362.7,1014.2" fill="none" stroke="#a0401a" stroke-width="1.0" opacity="0.7"/>
<path d="M280.7,1084.7 L383.9,1009.8" fill="none" stroke="#c95420" stroke-width="0.8" opacity="0.3"/>
<path d="M292.6,1093.5 C291.3,1090.3 292.6,1082.9 294.6,1081.2 L340.0,1050.4 Q362.6,1035.3 384.0,1027.5 L292.6,1093.5 Z" fill="#f6b96e"/>
<path d="M292.6,1093.5 L384.0,1027.5" fill="none" stroke="#a0401a" stroke-width="1.0" opacity="0.7"/>
<path d="M302.7,1098.9 L405.1,1023.1" fill="none" stroke="#c95420" stroke-width="0.8" opacity="0.3"/>
<path d="M317.3,1109.6 C316.1,1106.3 317.3,1098.9 319.3,1097.3 L364.3,1066.0 Q386.8,1050.6 408.0,1042.6 L317.3,1109.6 Z" fill="#f6b96e"/>
<path d="M317.3,1109.6 L408.0,1042.6" fill="none" stroke="#a0401a" stroke-width="1.0" opacity="0.7"/>
<path d="M327.4,1115.0 L429.0,1038.0" fill="none" stroke="#c95420" stroke-width="0.8" opacity="0.3"/>
<path d="M339.5,1124.1 C338.3,1120.8 339.5,1113.4 341.6,1111.8 L386.2,1080.0 Q408.5,1064.4 429.6,1056.1 L339.5,1124.1 Z" fill="#f6b96e"/>
<path d="M339.5,1124.1 L429.6,1056.1" fill="none" stroke="#a0401a" stroke-width="1.0" opacity="0.7"/>
<path d="M349.7,1129.4 L450.5,1051.4" fill="none" stroke="#c95420" stroke-width="0.8" opacity="0.3"/>
<path d="M364.3,1140.1 C363.1,1136.9 364.3,1129.5 366.3,1127.8 L410.6,1095.6 Q432.7,1079.7 453.6,1071.2 L364.3,1140.1 Z" fill="#f6b96e"/>
<path d="M364.3,1140.1 L453.6,1071.2" fill="none" stroke="#a0401a" stroke-width="1.0" opacity="0.7"/>
<path d="M374.4,1145.5 L474.4,1066.3" fill="none" stroke="#c95420" stroke-width="0.8" opacity="0.3"/>
<path d="M391.9,1158.1 C390.7,1154.8 391.9,1147.4 393.9,1145.8 L437.8,1113.0 Q459.7,1096.8 480.4,1088.0 L391.9,1158.1 Z" fill="#f6b96e"/>
<path d="M391.9,1158.1 L480.4,1088.0" fill="none" stroke="#a0401a" stroke-width="1.0" opacity="0.7"/>
<path d="M402.0,1163.4 L501.1,1083.0" fill="none" stroke="#c95420" stroke-width="0.8" opacity="0.3"/>
<path d="M416.6,1174.1 C415.4,1170.9 416.6,1163.5 418.7,1161.8 L462.2,1128.5 Q483.9,1112.1 504.4,1103.1 L416.6,1174.1 Z" fill="#f6b96e"/>
<path d="M416.6,1174.1 L504.4,1103.1" fill="none" stroke="#a0401a" stroke-width="1.0" opacity="0.7"/>
<path d="M426.7,1179.5 L525.0,1097.9" fill="none" stroke="#c95420" stroke-width="0.8" opacity="0.3"/>
<path d="M441.4,1190.2 C440.1,1186.9 441.4,1179.5 443.4,1177.9 L486.5,1144.1 Q508.1,1127.4 528.3,1118.1 L441.4,1190.2 Z" fill="#f6b96e"/>
<path d="M441.4,1190.2 L528.3,1118.1" fill="none" stroke="#a0401a" stroke-width="1.0" opacity="0.7"/>
<path d="M451.5,1195.5 L548.8,1112.8" fill="none" stroke="#c95420" stroke-width="0.8" opacity="0.3"/>
<path d="M262.8,1076.0 L469.0,1210.0 L475.1,1204.7 L269.4,1071.3 Z" fill="#cf5a22" opacity="0.35"/>
<path d="M262.8,1076.0 L469.0,1210.0" fill="none" stroke="#7a3216" stroke-width="1.4" opacity="0.8"/>
<path d="M469.0,1210.0 L570.8,1122.0" fill="none" stroke="#b04a1c" stroke-width="0.8" opacity="0.6"/>
<path d="M381.4,1015.4 L371.8,996.0 L487.0,940.0 L669.0,1041.0 L569.0,1123.0 Z" fill="#e86a2c" />
<path d="M389.0,1018.2 C388.0,1015.3 389.0,1008.8 390.8,1007.3 L435.1,977.8 Q457.1,963.2 478.1,955.2 L389.0,1018.2 Z" fill="#f6b96e"/>
<path d="M389.0,1018.2 L478.1,955.2" fill="none" stroke="#a0401a" stroke-width="1.0" opacity="0.7"/>
<path d="M398.3,1022.4 L498.2,950.3" fill="none" stroke="#c95420" stroke-width="0.8" opacity="0.3"/>
<path d="M411.2,1030.8 C410.1,1028.0 411.2,1021.5 413.0,1020.0 L456.9,990.2 Q478.8,975.4 499.7,967.2 L411.2,1030.8 Z" fill="#f6b96e"/>
<path d="M411.2,1030.8 L499.7,967.2" fill="none" stroke="#a0401a" stroke-width="1.0" opacity="0.7"/>
<path d="M420.4,1035.1 L519.7,962.2" fill="none" stroke="#c95420" stroke-width="0.8" opacity="0.3"/>
<path d="M435.9,1045.0 C434.8,1042.1 435.9,1035.7 437.7,1034.2 L481.4,1004.0 Q503.1,989.1 523.8,980.7 L435.9,1045.0 Z" fill="#f6b96e"/>
<path d="M435.9,1045.0 L523.8,980.7" fill="none" stroke="#a0401a" stroke-width="1.0" opacity="0.7"/>
<path d="M445.2,1049.2 L543.8,975.6" fill="none" stroke="#c95420" stroke-width="0.8" opacity="0.3"/>
<path d="M460.7,1059.2 C459.6,1056.3 460.7,1049.9 462.5,1048.4 L505.8,1017.8 Q527.4,1002.7 548.0,994.1 L460.7,1059.2 Z" fill="#f6b96e"/>
<path d="M460.7,1059.2 L548.0,994.1" fill="none" stroke="#a0401a" stroke-width="1.0" opacity="0.7"/>
<path d="M469.9,1063.4 L567.8,988.9" fill="none" stroke="#c95420" stroke-width="0.8" opacity="0.3"/>
<path d="M488.2,1075.0 C487.2,1072.1 488.2,1065.7 490.1,1064.2 L533.0,1033.2 Q554.5,1017.9 574.8,1009.1 L488.2,1075.0 Z" fill="#f6b96e"/>
<path d="M488.2,1075.0 L574.8,1009.1" fill="none" stroke="#a0401a" stroke-width="1.0" opacity="0.7"/>
<path d="M497.5,1079.2 L594.6,1003.8" fill="none" stroke="#c95420" stroke-width="0.8" opacity="0.3"/>
<path d="M515.8,1090.8 C514.7,1088.0 515.8,1081.5 517.6,1080.0 L560.2,1048.6 Q581.5,1033.1 601.7,1024.1 L515.8,1090.8 Z" fill="#f6b96e"/>
<path d="M515.8,1090.8 L601.7,1024.1" fill="none" stroke="#a0401a" stroke-width="1.0" opacity="0.7"/>
<path d="M525.1,1095.0 L621.4,1018.7" fill="none" stroke="#c95420" stroke-width="0.8" opacity="0.3"/>
<path d="M540.6,1105.0 C539.5,1102.1 540.6,1095.7 542.4,1094.2 L584.7,1062.4 Q605.8,1046.8 625.8,1037.6 L540.6,1105.0 Z" fill="#f6b96e"/>
<path d="M540.6,1105.0 L625.8,1037.6" fill="none" stroke="#a0401a" stroke-width="1.0" opacity="0.7"/>
<path d="M549.8,1109.2 L645.4,1032.0" fill="none" stroke="#c95420" stroke-width="0.8" opacity="0.3"/>
<path d="M381.4,1015.4 L569.0,1123.0 L575.0,1118.1 L387.7,1010.9 Z" fill="#cf5a22" opacity="0.35"/>
<path d="M381.4,1015.4 L569.0,1123.0" fill="none" stroke="#7a3216" stroke-width="1.4" opacity="0.8"/>
<path d="M569.0,1123.0 L669.0,1041.0" fill="none" stroke="#b04a1c" stroke-width="0.8" opacity="0.6"/>
<path d="M135.0,1119.0 L140.0,1114.0 L148.0,1119.0 L144.0,1125.0 Z" fill="#d55a24" />
<path d="M138.0,1118.0 L146.0,1123.0" fill="none" stroke="#7a3216" stroke-width="1" />
<path d="M254.4,1059.0 L259.4,1054.0 L267.4,1059.0 L263.4,1065.0 Z" fill="#d55a24" />
<path d="M257.4,1058.0 L265.4,1063.0" fill="none" stroke="#7a3216" stroke-width="1" />
<path d="M369.8,998.0 L374.8,993.0 L382.8,998.0 L378.8,1004.0 Z" fill="#d55a24" />
<path d="M372.8,997.0 L380.8,1002.0" fill="none" stroke="#7a3216" stroke-width="1" />
<path d="M485.0,940.0 L490.0,935.0 L498.0,940.0 L494.0,946.0 Z" fill="#d55a24" />
<path d="M488.0,939.0 L496.0,944.0" fill="none" stroke="#7a3216" stroke-width="1" />
<path d="M364.0,1302.0 L470.5,1209.0 L478.5,1219.5 L367.0,1304.0 Z" fill="#ffffff" />
<path d="M469.0,1210.0 L570.8,1122.0 L578.8,1132.5 L472.0,1212.0 Z" fill="#ffffff" />
<path d="M569.0,1123.0 L669.0,1041.0 L677.0,1051.5 L572.0,1125.0 Z" fill="#ffffff" />
<path d="M237.0,1410.0 L366.0,1304.0 L369.0,1308.0 L244.0,1408.0 Z" fill="#ffffff" />
<path d="M353.5,1309.0 L367.6,1305.0 L373.2,1313.6 L359.0,1319.3 Z" fill="#f6e4ae" />
<path d="M353.5,1309.0 L359.0,1319.3 L359.0,1326.3 L353.5,1318.0 Z" fill="#e2c27e" />
<path d="M353.5,1309.0 L359.0,1319.3 L373.2,1313.6" fill="none" stroke="#8a7652" stroke-width="0.8" />
<path d="M458.0,1214.0 L472.1,1210.0 L477.7,1218.6 L463.5,1224.3 Z" fill="#f6e4ae" />
<path d="M458.0,1214.0 L463.5,1224.3 L463.5,1231.3 L458.0,1223.0 Z" fill="#e2c27e" />
<path d="M458.0,1214.0 L463.5,1224.3 L477.7,1218.6" fill="none" stroke="#8a7652" stroke-width="0.8" />
<path d="M558.3,1127.0 L572.4,1123.0 L578.0,1131.6 L563.8,1137.3 Z" fill="#f6e4ae" />
<path d="M558.3,1127.0 L563.8,1137.3 L563.8,1144.3 L558.3,1136.0 Z" fill="#e2c27e" />
<path d="M558.3,1127.0 L563.8,1137.3 L578.0,1131.6" fill="none" stroke="#8a7652" stroke-width="0.8" />
<path d="M530.0,904.0 L545.4,905.8 L616.2,930.4 L576.0,930.4 L553.0,918.0 Z" fill="#ffffff" />
<linearGradient id="rg" x1="0" y1="0" x2="0.35" y2="1"><stop offset="0" stop-color="#ee7e3e"/><stop offset="0.55" stop-color="#e46a2e"/><stop offset="1" stop-color="#c85422"/></linearGradient>
<path d="M490,956 C486,926 503,906 521,906 C537,906 549,911 554,918 L600,945 L631,956 L708,998.7 C714,1003 719,1010 721,1019 L657,1040 L567,997 L498,959 Z" fill="url(#rg)"/>
<path d="M490,956 C486,926 503,906 521,906 C537,906 550,911 557,917 C552,940 551,965 552,986 L498,959 Z" fill="#e87634"/>
<path d="M552,986 C551,965 552,940 557,917 L561,919 C557,940 556,965 557,989 Z" fill="#b8501e" opacity="0.3"/>
<path d="M490,956 C486,926 503,906 521,906 C535,906 546,910 553,915 L546,918 C534,912 516,913 507,922 C499,932 497,945 498,958 Z" fill="#f39c5c"/>
<path d="M567,997 C563,968 578,947 597,947 C612,947 624,951 631,956 C627,978 626,1005 627,1026 L567,997 Z" fill="#e87634"/>
<path d="M627,1026 C626,1005 627,978 631,956 L636,959 C632,980 631,1005 632,1029 Z" fill="#b8501e" opacity="0.3"/>
<path d="M567,997 C563,968 578,947 597,947 C610,947 620,950 627,954 L620,957 C608,952 591,954 582,963 C574,973 572,986 574,999 Z" fill="#f39c5c"/>
<path d="M572.0,999.0 L657.0,1040.0" fill="none" stroke="#a8461c" stroke-width="1.2" />
<path d="M667.0,1001.0 L693.0,1001.0 L693.0,1045.0 L667.0,1045.0 Z" fill="#f2d898" />
<path d="M667.0,1001.0 L673.0,1001.0 L673.0,1045.0 L667.0,1045.0 Z" fill="#e0c07e" />
<path d="M657,1040 C654,1012 672,996 692,996 C708,996 719,1006 721,1019 L713,1021 C710,1009 702,1004 692,1004 C677,1005 666,1018 665,1038 Z" fill="#f0904e"/>
<path d="M693,1006 C700,1006 709,1011 713,1021 L693,1040 Z" fill="#7e3a1e"/>
<path d="M258.0,1469.0 L713.0,1072.3" fill="none" stroke="#3a3a3a" stroke-width="0.9" />
<path d="M262.4,1466.0 L272.4,1458.0" fill="none" stroke="#3a3a3a" stroke-width="1" />
<path d="M264.4,1457.0 L270.4,1467.0" fill="none" stroke="#3a3a3a" stroke-width="0.8" />
<path d="M276.0,1454.0 L286.0,1446.0" fill="none" stroke="#3a3a3a" stroke-width="1" />
<path d="M278.0,1445.0 L284.0,1455.0" fill="none" stroke="#3a3a3a" stroke-width="0.8" />
<path d="M390.5,1355.0 L400.5,1347.0" fill="none" stroke="#3a3a3a" stroke-width="1" />
<path d="M392.5,1346.0 L398.5,1356.0" fill="none" stroke="#3a3a3a" stroke-width="0.8" />
<path d="M497.9,1261.0 L507.9,1253.0" fill="none" stroke="#3a3a3a" stroke-width="1" />
<path d="M499.9,1252.0 L505.9,1262.0" fill="none" stroke="#3a3a3a" stroke-width="0.8" />
<path d="M599.5,1173.0 L609.5,1165.0" fill="none" stroke="#3a3a3a" stroke-width="1" />
<path d="M601.5,1164.0 L607.5,1174.0" fill="none" stroke="#3a3a3a" stroke-width="0.8" />
<path d="M701.2,1085.0 L711.2,1077.0" fill="none" stroke="#3a3a3a" stroke-width="1" />
<path d="M703.2,1076.0 L709.2,1086.0" fill="none" stroke="#3a3a3a" stroke-width="0.8" />
<path d="M705.8,1081.0 L715.8,1073.0" fill="none" stroke="#3a3a3a" stroke-width="1" />
<path d="M707.8,1072.0 L713.8,1082.0" fill="none" stroke="#3a3a3a" stroke-width="0.8" />
<path d="M235.4,1411.3 L267.4,1462.6" fill="none" stroke="#3a3a3a" stroke-width="0.8" />
<path d="M258.5,1411.0 L281.5,1452.0" fill="none" stroke="#3a3a3a" stroke-width="0.8" />
<path d="M366.0,1304.0 L398.0,1354.0" fill="none" stroke="#3a3a3a" stroke-width="0.8" />
<path d="M473.4,1211.3 L507.3,1264.4" fill="none" stroke="#3a3a3a" stroke-width="0.8" />
<path d="M571.0,1124.0 L606.0,1172.0" fill="none" stroke="#3a3a3a" stroke-width="0.8" />
<path d="M676.0,1042.3 L707.3,1082.7" fill="none" stroke="#3a3a3a" stroke-width="0.8" />
<path d="M685.4,1040.0 L713.0,1077.0" fill="none" stroke="#3a3a3a" stroke-width="0.8" />
<rect x="593.6" y="1326.3" width="131.89999999999998" height="134.70000000000005" fill="#ffffff"/>
<clipPath id="ic"><rect x="593.6" y="1326.3" width="131.89999999999998" height="134.70000000000005"/></clipPath>
<g clip-path="url(#ic)">
<path d="M668.0,1385.0 L726.0,1380.0 L726.0,1406.0 L676.0,1399.0 Z" fill="#d9562a" />
<path d="M680.0,1388.0 L726.0,1384.0" fill="none" stroke="#ee8a50" stroke-width="2" />
<path d="M680.0,1394.0 L726.0,1392.0" fill="none" stroke="#ee8a50" stroke-width="1.5" />
<path d="M642.0,1404.4 L665.4,1395.4 L726.0,1404.4 L726.0,1418.0 L676.0,1410.0 L650.0,1412.0 Z" fill="#8d8656" />
<path d="M590.0,1442.0 L649.2,1409.7 L669.0,1402.6 L674.4,1426.0 L611.5,1462.0 L590.0,1462.0 Z" fill="#f4dc9a" />
<path d="M669.0,1402.6 L726.0,1413.3 L726.0,1440.3 L674.4,1426.0 Z" fill="#f4dc9a" />
<path d="M669.0,1402.6 L676.0,1403.0 L680.0,1426.0 L674.4,1426.0 Z" fill="#e8c880" />
<path d="M590.0,1427.7 L642.0,1406.0 L649.2,1409.7 L590.0,1442.0 Z" fill="#ffffff" />
<path d="M643.8,1404.0 L656.0,1402.6 L658.2,1412.0 L646.0,1414.0 Z" fill="#f0d490" />
<path d="M678.0,1400.0 L694.0,1399.0 L696.0,1409.0 L680.0,1410.0 Z" fill="#f0d490" />
<path d="M590.0,1364.0 L654.6,1397.0 L658.2,1402.6 L590.0,1428.0 Z" fill="#e8702e" />
<path d="M594.0,1376.0 L640.0,1383.0" fill="none" stroke="#f3a060" stroke-width="1.6" opacity="0.85"/>
<path d="M594.0,1384.0 L636.0,1389.5" fill="none" stroke="#f3a060" stroke-width="1.6" opacity="0.85"/>
<path d="M594.0,1392.0 L632.0,1396.0" fill="none" stroke="#f3a060" stroke-width="1.6" opacity="0.85"/>
<path d="M594.0,1400.0 L624.7,1402.5" fill="none" stroke="#f3a060" stroke-width="1.6" opacity="0.85"/>
<path d="M594.0,1408.0 L607.3,1409.0" fill="none" stroke="#f3a060" stroke-width="1.6" opacity="0.85"/>
<path d="M594.0,1416.0 L590.0,1415.5" fill="none" stroke="#f3a060" stroke-width="1.6" opacity="0.85"/>
<path d="M590.0,1365.0 L654.6,1398.0" fill="none" stroke="#c4c0bc" stroke-width="2.2" />
<path d="M592.0,1366.0 L646.0,1366.0 L656.0,1399.0 L625.0,1390.0 Z" fill="#d86028" />
<path d="M597.2,1372 C595,1352 608,1341.5 625.9,1341.5 C636,1341.5 642,1346 645,1350 L646,1372 Z" fill="#e46a2c"/>
<path d="M597.2,1372 C595,1352 608,1341.5 625.9,1341.5 C633,1341.5 639,1344 642,1347 L637,1350 C626,1346 610,1350 604,1362 L603,1374 Z" fill="#f2985a"/>
<path d="M618.7,1386.4 C617,1366 630,1352.3 649.2,1352.3 C658,1352.3 664,1356 667.2,1359.5 L697.7,1375.6 L703,1391.8 L647.4,1399 Z" fill="url(#rg)"/>
<path d="M618.7,1386.4 C617,1366 630,1352.3 649.2,1352.3 C656,1352.3 661,1354 664,1357 L659,1360 C648,1356 632,1361 626,1374 L625,1388 Z" fill="#f2985a"/>
<path d="M647.4,1399 C649,1384 660,1372 676,1371 C690,1370 701,1380 703,1391.8 L698,1393 C696,1383 688,1376 676,1377 C663,1378 654,1388 653,1399 Z" fill="#f08c4c"/>
<path d="M653,1399 C654,1388 663,1378 676,1377 C688,1376 696,1383 698,1393 Z" fill="#7a3a1e"/>
<path d="M662.0,1377.0 L682.0,1376.0 L698.0,1390.0 L690.0,1393.0 L672.0,1382.0 Z" fill="#c9c7c5" />
</g>
<rect x="593.6" y="1326.3" width="131.89999999999998" height="134.70000000000005" fill="none" stroke="#111" stroke-width="1.6"/>
<path d="M662.0,1403.8 L697.7,1484.6" fill="none" stroke="#3a3a3a" stroke-width="0.8" />
<path d="M673.5,1403.8 L708.0,1482.3" fill="none" stroke="#3a3a3a" stroke-width="0.8" />
<path d="M688.0,1487.5 L716.0,1479.0" fill="none" stroke="#3a3a3a" stroke-width="0.9" />
<path d="M692.7,1488.6 L702.7,1480.6" fill="none" stroke="#3a3a3a" stroke-width="1" />
<path d="M694.7,1479.6 L700.7,1489.6" fill="none" stroke="#3a3a3a" stroke-width="0.8" />
<path d="M703.0,1486.3 L713.0,1478.3" fill="none" stroke="#3a3a3a" stroke-width="1" />
<path d="M705.0,1477.3 L711.0,1487.3" fill="none" stroke="#3a3a3a" stroke-width="0.8" />
</svg>
<div class="abs" style="left:76px;top:20.68px;font-size:37px;font-weight:normal;font-style:italic;color:#fff;transform-origin:0 0;transform:scaleX(1.0163);-webkit-text-stroke:0.7px #fff;">Caractéristiques techniques</div>
<div class="abs" style="left:621.5px;top:28.74px;font-size:17.2px;font-weight:normal;font-style:normal;color:#2b4b8e;transform-origin:0 0;transform:scaleX(0.9061);-webkit-text-stroke:0.6px #2b4b8e;">DTA</div>
<div class="abs" style="left:593.5px;top:45.94px;font-size:17.2px;font-weight:normal;font-style:normal;color:#2b4b8e;transform-origin:0 0;transform:scaleX(1.0093);-webkit-text-stroke:0.6px #2b4b8e;">05/11-2152</div>
<div class="abs" style="left:77px;top:76.74px;font-size:17.2px;font-weight:normal;font-style:normal;color:#1c1c1c;transform-origin:0 0;transform:scaleX(0.9543);-webkit-text-stroke:0.35px #1c1c1c;">Ml de liteaux par m² de couverture :</div>
<div class="abs" style="left:77px;top:98.14px;font-size:17.2px;font-weight:normal;font-style:normal;color:#383838;transform-origin:0 0;transform:scaleX(0.9265);">- Pureau mini de 360 mm : = 2,77 ml</div>
<div class="abs" style="left:77px;top:119.64px;font-size:17.2px;font-weight:normal;font-style:normal;color:#383838;transform-origin:0 0;transform:scaleX(0.9211);">- Pureau moyen de 370 mm : = 2,70 ml</div>
<div class="abs" style="left:77px;top:140.64px;font-size:17.2px;font-weight:normal;font-style:normal;color:#383838;transform-origin:0 0;transform:scaleX(0.9197);">- Pureau maxi de 390 mm : = 2,56 ml</div>
<div class="abs" style="left:77px;top:162.14px;font-size:17.2px;font-weight:normal;font-style:normal;color:#1c1c1c;transform-origin:0 0;transform:scaleX(0.9166);-webkit-text-stroke:0.35px #1c1c1c;">Poids au m² : 44,3kg</div>
<div class="abs" style="left:77px;top:183.14px;font-size:17.2px;font-weight:normal;font-style:normal;color:#1c1c1c;transform-origin:0 0;transform:scaleX(0.9447);-webkit-text-stroke:0.35px #1c1c1c;">Nombre au m² : 9,5 (au pureau de 370 mm )</div>
<div class="abs" style="left:430px;top:76.74px;font-size:17.2px;font-weight:normal;font-style:normal;color:#1c1c1c;transform-origin:0 0;transform:scaleX(0.9223);-webkit-text-stroke:0.35px #1c1c1c;">Pureau catalogue variable :</div>
<div class="abs" style="left:430px;top:98.14px;font-size:17.2px;font-weight:normal;font-style:normal;color:#383838;transform-origin:0 0;transform:scaleX(0.9365);">de 360 mm mini à 390 mm maxi</div>
<div class="abs" style="left:430px;top:119.64px;font-size:17.2px;font-weight:normal;font-style:normal;color:#1c1c1c;transform-origin:0 0;transform:scaleX(0.9264);-webkit-text-stroke:0.35px #1c1c1c;">Largeur utile : ≃ 272 mm</div>
<div class="abs" style="left:430px;top:140.64px;font-size:17.2px;font-weight:normal;font-style:normal;color:#1c1c1c;transform-origin:0 0;transform:scaleX(0.9733);-webkit-text-stroke:0.35px #1c1c1c;">Quantité par palette : 240 tuiles</div>
<div class="abs" style="left:430px;top:162.14px;font-size:17.2px;font-weight:normal;font-style:normal;color:#1c1c1c;transform-origin:0 0;transform:scaleX(0.9355);-webkit-text-stroke:0.35px #1c1c1c;">Pose à joints droits ou croisés</div>
<div class="abs" style="left:80px;top:253.99px;font-size:26px;font-weight:normal;font-style:italic;color:#fff;transform-origin:0 0;transform:scaleX(0.9659);-webkit-text-stroke:0.5px #fff;">Coupe transversale au niveau du liteau</div>
<div class="abs" style="left:75px;top:316.84px;font-size:17.2px;font-weight:normal;font-style:normal;color:#2e4a90;transform-origin:0 0;transform:scaleX(0.9420);-webkit-text-stroke:0.7px #2e4a90;">Pose avec rives individuelles</div>
<div class="abs" style="left:82px;top:816.07px;font-size:26.5px;font-weight:normal;font-style:italic;color:#fff;transform-origin:0 0;transform:scaleX(1.0058);-webkit-text-stroke:0.5px #fff;">Cotations</div>
<div class="abs" style="left:103px;top:380.02px;font-size:12.5px;font-weight:normal;font-style:normal;color:#1e1e1e;transform-origin:0 0;transform:scaleX(0.8994);-webkit-text-stroke:0.45px #1e1e1e;">Rive</div>
<div class="abs" style="left:95.5px;top:395.42px;font-size:12.5px;font-weight:normal;font-style:normal;color:#1e1e1e;transform-origin:0 0;transform:scaleX(0.9070);-webkit-text-stroke:0.45px #1e1e1e;">gauche</div>
<div class="abs" style="left:673.8px;top:380.02px;font-size:12.5px;font-weight:normal;font-style:normal;color:#1e1e1e;transform-origin:0 0;transform:scaleX(0.8635);-webkit-text-stroke:0.45px #1e1e1e;">Rive</div>
<div class="abs" style="left:668.8px;top:395.32px;font-size:12.5px;font-weight:normal;font-style:normal;color:#1e1e1e;transform-origin:0 0;transform:scaleX(1.0038);-webkit-text-stroke:0.45px #1e1e1e;">droite</div>
<div class="abs" style="left:105px;top:590.72px;font-size:12.5px;font-weight:normal;font-style:normal;color:#1e1e1e;transform-origin:0 0;transform:scaleX(1.0614);-webkit-text-stroke:0.45px #1e1e1e;">≃ 144 mm</div>
<div class="abs" style="left:97.3px;top:607.62px;font-size:12.5px;font-weight:normal;font-style:normal;color:#1e1e1e;transform-origin:0 0;transform:scaleX(1.0750);-webkit-text-stroke:0.45px #1e1e1e;">avec 1/2 tuile</div>
<div class="abs" style="left:97.3px;top:629.12px;font-size:12.5px;font-weight:normal;font-style:normal;color:#1e1e1e;transform-origin:0 0;transform:scaleX(1.0388);-webkit-text-stroke:0.45px #1e1e1e;">ou ≃ 284 mm</div>
<div class="abs" style="left:109.4px;top:645.32px;font-size:12.5px;font-weight:normal;font-style:normal;color:#1e1e1e;transform-origin:0 0;transform:scaleX(1.0528);-webkit-text-stroke:0.45px #1e1e1e;">avec tuile</div>
<div class="abs" style="left:210.6px;top:590.72px;font-size:12.5px;font-weight:normal;font-style:normal;color:#1e1e1e;transform-origin:0 0;transform:scaleX(1.0547);-webkit-text-stroke:0.45px #1e1e1e;">≃ 272 mm</div>
<div class="abs" style="left:331.8px;top:590.72px;font-size:12.5px;font-weight:normal;font-style:normal;color:#1e1e1e;transform-origin:0 0;transform:scaleX(1.0664);-webkit-text-stroke:0.45px #1e1e1e;">≃ 272 mm</div>
<div class="abs" style="left:454.9px;top:590.72px;font-size:12.5px;font-weight:normal;font-style:normal;color:#1e1e1e;transform-origin:0 0;transform:scaleX(1.0580);-webkit-text-stroke:0.45px #1e1e1e;">≃ 272 mm</div>
<div class="abs" style="left:582.5px;top:590.22px;font-size:12.5px;font-weight:normal;font-style:normal;color:#1e1e1e;transform-origin:0 0;transform:scaleX(1.0580);-webkit-text-stroke:0.45px #1e1e1e;">≃ 190 mm</div>
<div class="abs" style="left:574.5px;top:606.62px;font-size:12.5px;font-weight:normal;font-style:normal;color:#1e1e1e;transform-origin:0 0;transform:scaleX(1.0764);-webkit-text-stroke:0.45px #1e1e1e;">avec 1/2 tuile</div>
<div class="abs" style="left:573.8px;top:628.12px;font-size:12.5px;font-weight:normal;font-style:normal;color:#1e1e1e;transform-origin:0 0;transform:scaleX(1.0530);-webkit-text-stroke:0.45px #1e1e1e;">ou ≃ 322 mm</div>
<div class="abs" style="left:586.8px;top:644.52px;font-size:12.5px;font-weight:normal;font-style:normal;color:#1e1e1e;transform-origin:0 0;transform:scaleX(1.0490);-webkit-text-stroke:0.45px #1e1e1e;">avec tuile</div>
<div class="abs" style="left:273.8px;top:1472.90px;font-size:15px;font-weight:normal;font-style:normal;color:#1e1e1e;transform-origin:0 12.70px;transform:rotate(-39.06deg) scaleX(0.9973);-webkit-text-stroke:0.5px #1e1e1e;">≃ 80 mm</div>
<div class="abs" style="left:335.4px;top:1421.70px;font-size:15px;font-weight:normal;font-style:normal;color:#1e1e1e;transform-origin:0 12.70px;transform:rotate(-40.1deg) scaleX(1.0095);-webkit-text-stroke:0.5px #1e1e1e;">≃ 360 mm</div>
<div class="abs" style="left:423.3px;top:1346.00px;font-size:15px;font-weight:normal;font-style:normal;color:#1e1e1e;transform-origin:0 12.70px;transform:rotate(-38.01deg) scaleX(0.9508);-webkit-text-stroke:0.5px #1e1e1e;">≃ 360 à 390 mm</div>
<div class="abs" style="left:523.5px;top:1264.90px;font-size:15px;font-weight:normal;font-style:normal;color:#1e1e1e;transform-origin:0 12.70px;transform:rotate(-37.6deg) scaleX(0.9689);-webkit-text-stroke:0.5px #1e1e1e;">≃ 360 à 390&nbsp; mm</div>
<div class="abs" style="left:626.5px;top:1175.00px;font-size:15px;font-weight:normal;font-style:normal;color:#1e1e1e;transform-origin:0 12.70px;transform:rotate(-38.81deg) scaleX(0.9731);-webkit-text-stroke:0.5px #1e1e1e;">≃ 360 à 390&nbsp; mm</div>
<div class="abs" style="left:720px;top:1096.50px;font-size:15px;font-weight:normal;font-style:normal;color:#1e1e1e;transform-origin:0 12.70px;transform:rotate(-39.65deg) scaleX(0.9749);-webkit-text-stroke:0.5px #1e1e1e;">≃ 40 mm</div>
<div class="abs" style="left:682.7px;top:1496.70px;font-size:13px;font-weight:normal;font-style:normal;color:#1e1e1e;transform-origin:0 11.00px;transform:rotate(-23.11deg) scaleX(0.9704);-webkit-text-stroke:0.5px #1e1e1e;">≃ 50 mm</div>
<div class="abs" style="left:593.4px;top:1307.92px;font-size:12.5px;font-weight:normal;font-style:normal;color:#2a2a2a;transform-origin:0 0;transform:scaleX(0.8814);">Faîtage scellé</div>
</body></html>
